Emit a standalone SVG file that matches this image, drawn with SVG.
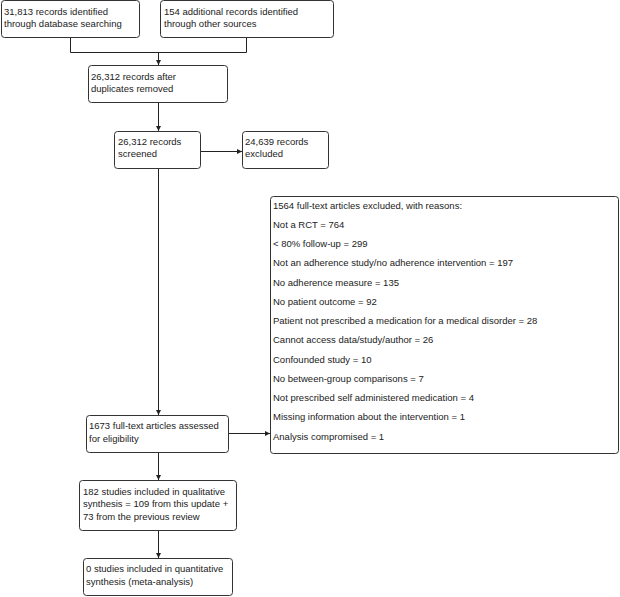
<svg xmlns="http://www.w3.org/2000/svg" width="620" height="597" viewBox="0 0 620 597">
<defs>
<style>
.box{fill:#fff;stroke:#333;stroke-width:1}
.t{font-family:"Liberation Sans",Arial,sans-serif;font-size:9.5px;fill:#222}
.c{fill:none;stroke:#222;stroke-width:1}
</style>
<marker id="ah" viewBox="0 0 6 6" refX="6" refY="3" markerWidth="5" markerHeight="5" orient="auto" markerUnits="userSpaceOnUse">
<path d="M0,0L6,3L0,6z" fill="#222"/>
</marker>
</defs>
<g id="connectors">
<path class="c" d="M70.5,37V52.5H246.5V37"/>
<path class="c" d="M158.5,52.5V65" marker-end="url(#ah)"/>
<path class="c" d="M158.5,103V131" marker-end="url(#ah)"/>
<path class="c" d="M200,151.5H242" marker-end="url(#ah)"/>
<path class="c" d="M158.5,168V415" marker-end="url(#ah)"/>
<path class="c" d="M229,433.5H270" marker-end="url(#ah)"/>
<path class="c" d="M158.5,453V480" marker-end="url(#ah)"/>
<path class="c" d="M158.5,531V558" marker-end="url(#ah)"/>
</g>
<g id="n1"><rect class="box" x="1.5" y="0.5" width="138" height="37" rx="3"/>
<text class="t" x="4" y="14.5">31,813 records identified</text>
<text class="t" x="4" y="27">through database searching</text></g>
<g id="n2"><rect class="box" x="160.5" y="0.5" width="173" height="37" rx="3"/>
<text class="t" x="164" y="14.5">154 additional records identified</text>
<text class="t" x="164" y="27">through other sources</text></g>
<g id="n3"><rect class="box" x="88.5" y="65.5" width="139" height="37" rx="3"/>
<text class="t" x="91" y="79.5">26,312 records after</text>
<text class="t" x="91" y="92">duplicates removed</text></g>
<g id="n4"><rect class="box" x="114.5" y="131.5" width="86" height="37" rx="3"/>
<text class="t" x="118" y="144.5">26,312 records</text>
<text class="t" x="118" y="157">screened</text></g>
<g id="n5"><rect class="box" x="242.5" y="131.5" width="86" height="37" rx="3"/>
<text class="t" x="245" y="144.5">24,639 records</text>
<text class="t" x="245" y="157">excluded</text></g>
<g id="n6"><rect class="box" x="270.5" y="196.5" width="348" height="257" rx="3"/>
<text class="t" x="273" y="208.5">1564 full-text articles excluded, with reasons:</text>
<text class="t" x="273" y="227.7">Not a RCT = 764</text>
<text class="t" x="273" y="247">&lt; 80% follow-up = 299</text>
<text class="t" x="273" y="266.2">Not an adherence study/no adherence intervention = 197</text>
<text class="t" x="273" y="285.5">No adherence measure = 135</text>
<text class="t" x="273" y="304.7">No patient outcome = 92</text>
<text class="t" x="273" y="324">Patient not prescribed a medication for a medical disorder = 28</text>
<text class="t" x="273" y="343.2">Cannot access data/study/author = 26</text>
<text class="t" x="273" y="362.5">Confounded study = 10</text>
<text class="t" x="273" y="381.7">No between-group comparisons = 7</text>
<text class="t" x="273" y="401">Not prescribed self administered medication = 4</text>
<text class="t" x="273" y="420.2">Missing information about the intervention = 1</text>
<text class="t" x="273" y="439.5">Analysis compromised = 1</text></g>
<g id="n7"><rect class="box" x="86.5" y="415.5" width="142" height="37" rx="3"/>
<text class="t" x="89" y="428.5">1673 full-text articles assessed</text>
<text class="t" x="89" y="441.5">for eligibility</text></g>
<g id="n8"><rect class="box" x="79.5" y="480.5" width="157" height="50" rx="3"/>
<text class="t" x="83" y="494.5">182 studies included in qualitative</text>
<text class="t" x="83" y="507">synthesis = 109 from this update +</text>
<text class="t" x="83" y="519.5">73 from the previous review</text></g>
<g id="n9"><rect class="box" x="83.5" y="558.5" width="149" height="37" rx="3"/>
<text class="t" x="86" y="571.5">0 studies included in quantitative</text>
<text class="t" x="86" y="584.5">synthesis (meta-analysis)</text></g>
</svg>
